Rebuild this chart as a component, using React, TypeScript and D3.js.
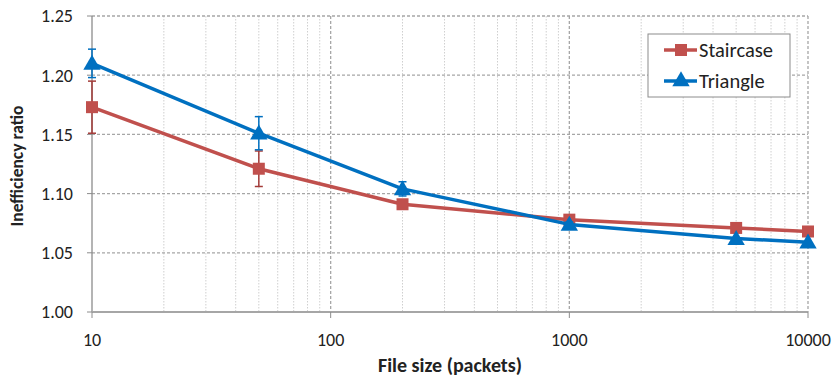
import React from "react";
import * as d3 from "d3";

const fileSizes = [10, 50, 200, 1000, 5000, 10000];
const staircase = [1.173, 1.121, 1.091, 1.078, 1.071, 1.068];
const staircaseErr = [0.022, 0.015, 0.003, 0.002, 0.001, 0.001];
const triangle = [1.21, 1.151, 1.104, 1.074, 1.062, 1.059];
const triangleErr = [0.012, 0.014, 0.006, 0.002, 0.001, 0.001];
const yTicks = [1.0, 1.05, 1.1, 1.15, 1.2, 1.25];
const xTicks = [10, 100, 1000, 10000];

const W = 835;
const H = 379;
const M = { left: 92, right: 27, top: 16, bottom: 67 };
const FONT = "Carlito, Calibri, 'Liberation Sans Narrow', 'Liberation Sans', sans-serif";

const RED = "#C0504D";
const BLUE = "#0070C0";

export default function App() {
  const x = d3.scaleLog().domain([10, 10000]).range([M.left, W - M.right]);
  const y = d3.scaleLinear().domain([1.0, 1.25]).range([H - M.bottom, M.top]);

  const minor: number[] = [];
  [10, 100, 1000].forEach((d) => {
    for (let k = 2; k <= 9; k++) minor.push(d * k);
  });

  const line = d3
    .line<number>()
    .x((_, i) => x(fileSizes[i]))
    .y((v) => y(v));

  const series = [
    { name: "Staircase", values: staircase, err: staircaseErr, color: RED, errColor: "#A33B38", marker: "square" },
    { name: "Triangle", values: triangle, err: triangleErr, color: BLUE, errColor: BLUE, marker: "triangle" },
  ];

  const triPath = (cx: number, cy: number, s: number) =>
    `M${cx},${cy - s * 0.62}L${cx + s * 0.62},${cy + s * 0.45}L${cx - s * 0.62},${cy + s * 0.45}Z`;

  const x0 = M.left;
  const x1 = W - M.right;
  const y0 = H - M.bottom;
  const y1 = M.top;

  return (
    <svg width={W} height={H} style={{ position: "absolute", left: 0, top: 0 }} fontFamily={FONT}>
      <rect width={W} height={H} fill="#fff" />
      {/* minor vertical gridlines */}
      {minor.map((d) => (
        <line key={"m" + d} x1={x(d)} x2={x(d)} y1={y1} y2={y0} stroke="#cfcfcf" strokeWidth={1} strokeDasharray="1.5,1.5" />
      ))}
      {/* major vertical gridlines */}
      {xTicks.slice(1).map((d) => (
        <line key={"M" + d} x1={x(d)} x2={x(d)} y1={y1} y2={y0} stroke="#a6a6a6" strokeWidth={1.3} strokeDasharray="3,2" />
      ))}
      {/* horizontal gridlines */}
      {yTicks.slice(1).map((d) => (
        <line key={"h" + d} x1={x0} x2={x1} y1={y(d)} y2={y(d)} stroke="#a6a6a6" strokeWidth={1.3} strokeDasharray="3,2" />
      ))}
      {/* axes */}
      <line x1={x0} x2={x0} y1={y1} y2={y0} stroke="#8c8c8c" strokeWidth={1.3} />
      <line x1={x0} x2={x1} y1={y0} y2={y0} stroke="#a6a6a6" strokeWidth={2} />
      {yTicks.map((d) => (
        <g key={"yt" + d}>
          <line x1={x0 - 5} x2={x0} y1={y(d)} y2={y(d)} stroke="#8c8c8c" />
          <text x={x0 - 19} y={y(d)} dy="0.35em" textAnchor="end" fontSize={18} fill="#222">
            {d3.format(".2f")(d)}
          </text>
        </g>
      ))}
      {xTicks.map((d) => (
        <g key={"xt" + d}>
          <line x1={x(d)} x2={x(d)} y1={y0} y2={y0 + 6} stroke="#8c8c8c" />
          <text x={x(d)} y={y0 + 34} textAnchor="middle" fontSize={18} fill="#222">
            {d}
          </text>
        </g>
      ))}
      <text x={(x0 + x1) / 2} y={H - 7} textAnchor="middle" fontSize={20} fontWeight="bold" fill="#222">
        File size (packets)
      </text>
      <text
        transform={`translate(23,${(y0 + y1) / 2 + 2}) rotate(-90)`}
        textAnchor="middle"
        fontSize={17.5}
        fontWeight="bold"
        fill="#222"
      >
        Inefficiency ratio
      </text>

      {/* series */}
      {series.map((s) => (
        <g key={s.name}>
          {s.values.map((v, i) => {
            const cx = x(fileSizes[i]);
            const e = s.err[i];
            if (e < 0.002) return null;
            return (
              <g key={i} stroke={s.errColor} strokeWidth={1.5}>
                <line x1={cx} x2={cx} y1={y(v + e)} y2={y(v - e)} />
                <line x1={cx - 4} x2={cx + 4} y1={y(v + e)} y2={y(v + e)} />
                <line x1={cx - 4} x2={cx + 4} y1={y(v - e)} y2={y(v - e)} />
              </g>
            );
          })}
          <path d={line(s.values) || ""} fill="none" stroke={s.color} strokeWidth={3.5} strokeLinejoin="round" />
          {s.values.map((v, i) => {
            const cx = x(fileSizes[i]);
            const cy = y(v);
            return s.marker === "square" ? (
              <rect key={i} x={cx - 6} y={cy - 6} width={12} height={12} fill={s.color} />
            ) : (
              <path key={i} d={triPath(cx, cy, 14)} fill={s.color} />
            );
          })}
        </g>
      ))}

      {/* legend */}
      <g>
        <rect x={648} y={34} width={142} height={63} fill="#fff" stroke="#8c8c8c" strokeWidth={1} />
        <line x1={664} x2={697} y1={50} y2={50} stroke={RED} strokeWidth={3.5} />
        <rect x={675} y={44} width={12} height={12} fill={RED} />
        <text x={699} y={50} dy="0.35em" fontSize={20.5} fill="#222">Staircase</text>
        <line x1={664} x2={697} y1={81} y2={81} stroke={BLUE} strokeWidth={3.5} />
        <path d={triPath(681, 80, 14)} fill={BLUE} />
        <text x={699} y={81} dy="0.35em" fontSize={20.5} fill="#222">Triangle</text>
      </g>
    </svg>
  );
}
